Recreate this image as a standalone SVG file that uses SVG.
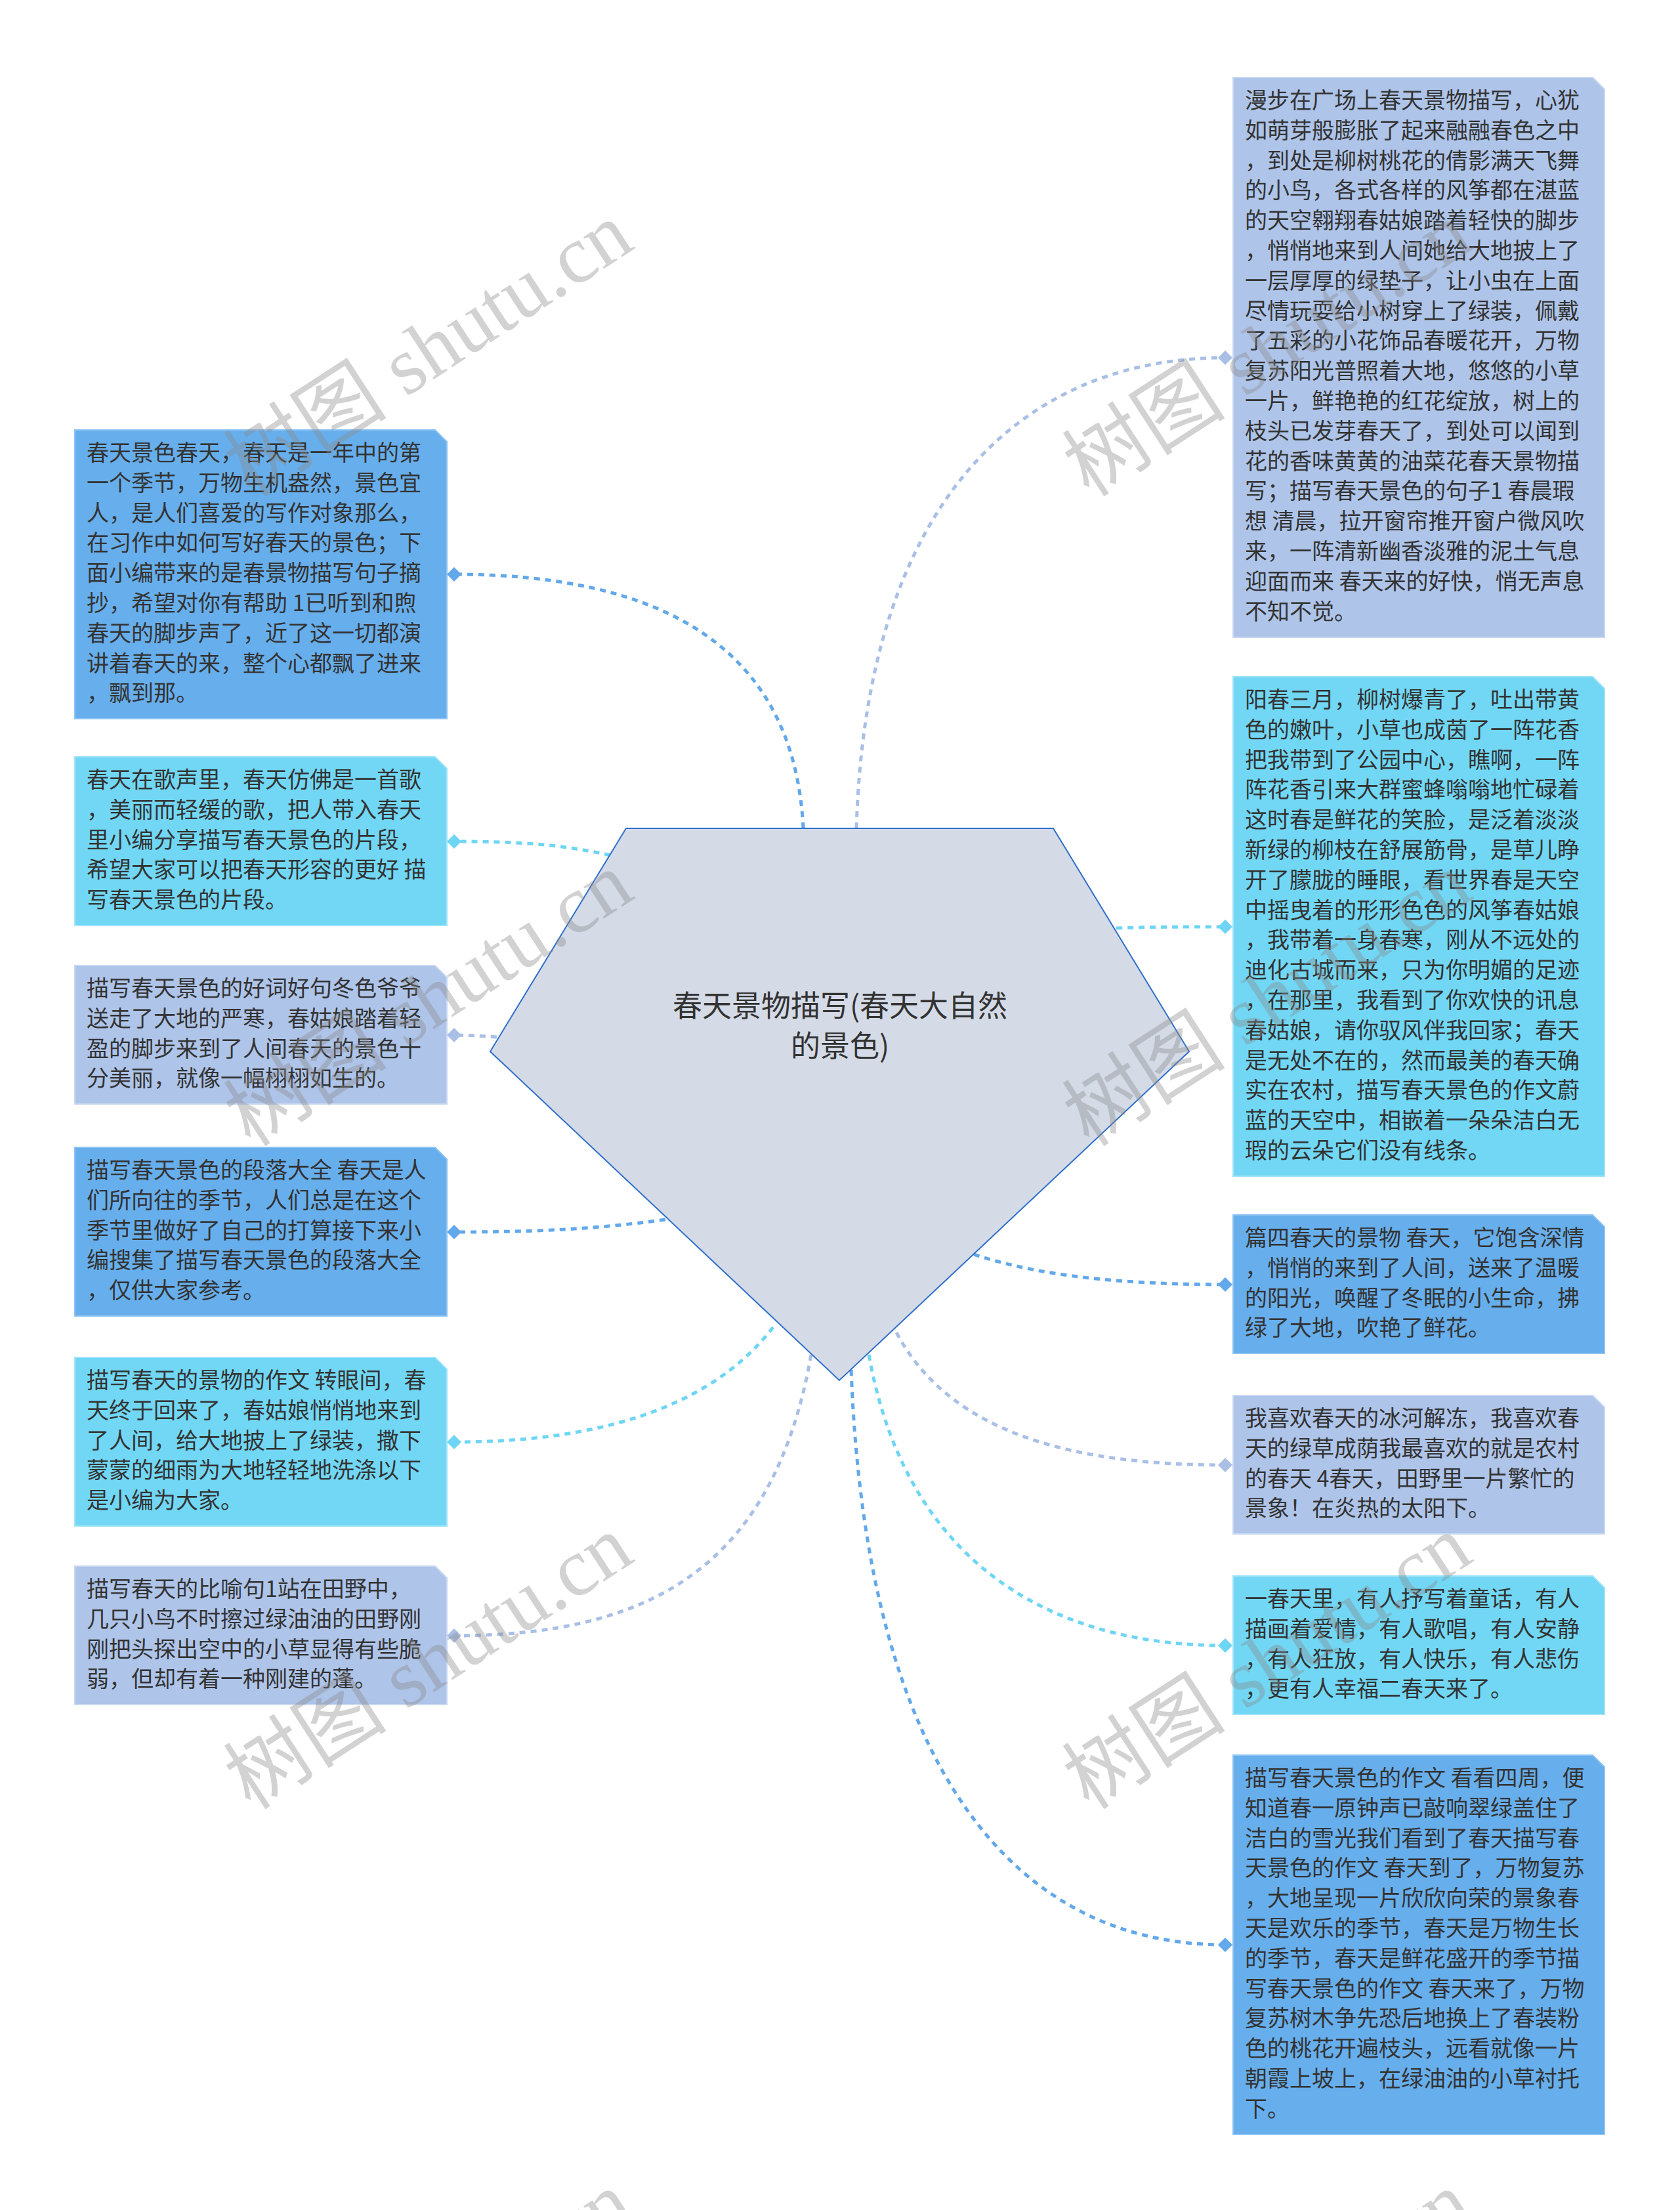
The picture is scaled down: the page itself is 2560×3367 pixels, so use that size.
<svg xmlns="http://www.w3.org/2000/svg" width="2560" height="3367" viewBox="0 0 2560 3367">
<style>
.bg{fill:#ffffff}
.conn path{fill:none;stroke-width:5;stroke-dasharray:9 8}
.cb{stroke:#62a8ea}
.cc{stroke:#6fd5f4}
.cl{stroke:#a9bfe6}
.nb{fill:#67aeec;stroke:#8ec4f3;stroke-width:2}
.nc{fill:#71d7f5;stroke:#a2e4f8;stroke-width:2}
.nl{fill:#aec4e9;stroke:#cad8f1;stroke-width:2}
.t{font-family:"Noto Sans CJK SC","Liberation Sans",sans-serif;font-size:34px;fill:#333333}
.ct{font-family:"Noto Sans CJK SC","Liberation Sans",sans-serif;font-size:45px;fill:#333333;text-anchor:middle}
.wm{font-family:"Liberation Serif","Noto Sans CJK SC",serif;font-size:125px;fill:#8a8a8a;opacity:0.38}
</style>
<defs>
<marker id="db" viewBox="-12 -12 24 24" markerWidth="24" markerHeight="24" refX="0" refY="0" markerUnits="userSpaceOnUse" orient="0"><path d="M0,-11 L11,0 L0,11 L-11,0 Z" fill="#62a8ea"/></marker>
<marker id="dc" viewBox="-12 -12 24 24" markerWidth="24" markerHeight="24" refX="0" refY="0" markerUnits="userSpaceOnUse" orient="0"><path d="M0,-11 L11,0 L0,11 L-11,0 Z" fill="#6fd5f4"/></marker>
<marker id="dl" viewBox="-12 -12 24 24" markerWidth="24" markerHeight="24" refX="0" refY="0" markerUnits="userSpaceOnUse" orient="0"><path d="M0,-11 L11,0 L0,11 L-11,0 Z" fill="#a9bfe6"/></marker>
</defs>
<rect class="bg" x="0" y="0" width="2560" height="3367"/>
<g id="connectors" class="conn">
<path class="cb" d="M1224,1262 C1210,980 1000,875 692,875" marker-end="url(#db)"/>
<path class="cc" d="M930,1303 C850,1285 780,1282 692,1282" marker-end="url(#dc)"/>
<path class="cl" d="M757,1580 C730,1578 710,1577 692,1577" marker-end="url(#dl)"/>
<path class="cb" d="M1014,1858 C900,1874 800,1877 692,1877" marker-end="url(#db)"/>
<path class="cc" d="M1178,2022 C1080,2150 900,2197 692,2197" marker-end="url(#dc)"/>
<path class="cl" d="M1236,2064 C1180,2380 1000,2492 692,2492" marker-end="url(#dl)"/>
<path class="cl" d="M1305,1262 C1320,760 1560,545 1867,545" marker-end="url(#dl)"/>
<path class="cc" d="M1701,1414 C1760,1412 1800,1412 1867,1412" marker-end="url(#dc)"/>
<path class="cb" d="M1484,1911 C1600,1950 1750,1957 1867,1957" marker-end="url(#db)"/>
<path class="cl" d="M1366,2030 C1450,2190 1650,2232 1867,2232" marker-end="url(#dl)"/>
<path class="cc" d="M1324,2064 C1380,2380 1600,2507 1867,2507" marker-end="url(#dc)"/>
<path class="cb" d="M1297,2087 C1320,2700 1550,2963 1867,2963" marker-end="url(#db)"/>
</g>
<g id="center">
<polygon points="954,1262 1605,1262 1812,1602 1279,2103 747,1602" fill="#d4dbe7" stroke="#2e6fca" stroke-width="2"/>
<text class="ct" x="1280" y="1549">春天景物描写(春天大自然</text>
<text class="ct" x="1280" y="1610">的景色)</text>
</g>
<g id="node-l1">
<polygon class="nb" points="114,655 663,655 681,673 681,1095 114,1095"/>
<text class="t" x="132" y="702"><tspan x="132">春天景色春天，春天是一年中的第</tspan><tspan x="132" dy="45.8">一个季节，万物生机盎然，景色宜</tspan><tspan x="132" dy="45.8">人，是人们喜爱的写作对象那么，</tspan><tspan x="132" dy="45.8">在习作中如何写好春天的景色；下</tspan><tspan x="132" dy="45.8">面小编带来的是春景物描写句子摘</tspan><tspan x="132" dy="45.8">抄，希望对你有帮助 1已听到和煦</tspan><tspan x="132" dy="45.8">春天的脚步声了，近了这一切都演</tspan><tspan x="132" dy="45.8">讲着春天的来，整个心都飘了进来</tspan><tspan x="132" dy="45.8">，飘到那。</tspan></text>
</g>
<g id="node-l2">
<polygon class="nc" points="114,1153 663,1153 681,1171 681,1410 114,1410"/>
<text class="t" x="132" y="1200"><tspan x="132">春天在歌声里，春天仿佛是一首歌</tspan><tspan x="132" dy="45.8">，美丽而轻缓的歌，把人带入春天</tspan><tspan x="132" dy="45.8">里小编分享描写春天景色的片段，</tspan><tspan x="132" dy="45.8">希望大家可以把春天形容的更好 描</tspan><tspan x="132" dy="45.8">写春天景色的片段。</tspan></text>
</g>
<g id="node-l3">
<polygon class="nl" points="114,1471 663,1471 681,1489 681,1682 114,1682"/>
<text class="t" x="132" y="1518"><tspan x="132">描写春天景色的好词好句冬色爷爷</tspan><tspan x="132" dy="45.8">送走了大地的严寒，春姑娘踏着轻</tspan><tspan x="132" dy="45.8">盈的脚步来到了人间春天的景色十</tspan><tspan x="132" dy="45.8">分美丽，就像一幅栩栩如生的。</tspan></text>
</g>
<g id="node-l4">
<polygon class="nb" points="114,1748 663,1748 681,1766 681,2005 114,2005"/>
<text class="t" x="132" y="1795"><tspan x="132">描写春天景色的段落大全 春天是人</tspan><tspan x="132" dy="45.8">们所向往的季节，人们总是在这个</tspan><tspan x="132" dy="45.8">季节里做好了自己的打算接下来小</tspan><tspan x="132" dy="45.8">编搜集了描写春天景色的段落大全</tspan><tspan x="132" dy="45.8">，仅供大家参考。</tspan></text>
</g>
<g id="node-l5">
<polygon class="nc" points="114,2068 663,2068 681,2086 681,2325 114,2325"/>
<text class="t" x="132" y="2115"><tspan x="132">描写春天的景物的作文 转眼间，春</tspan><tspan x="132" dy="45.8">天终于回来了，春姑娘悄悄地来到</tspan><tspan x="132" dy="45.8">了人间，给大地披上了绿装，撒下</tspan><tspan x="132" dy="45.8">蒙蒙的细雨为大地轻轻地洗涤以下</tspan><tspan x="132" dy="45.8">是小编为大家。</tspan></text>
</g>
<g id="node-l6">
<polygon class="nl" points="114,2386 663,2386 681,2404 681,2597 114,2597"/>
<text class="t" x="132" y="2433"><tspan x="132">描写春天的比喻句1站在田野中，</tspan><tspan x="132" dy="45.8">几只小鸟不时擦过绿油油的田野刚</tspan><tspan x="132" dy="45.8">刚把头探出空中的小草显得有些脆</tspan><tspan x="132" dy="45.8">弱，但却有着一种刚建的蓬。</tspan></text>
</g>
<g id="node-r1">
<polygon class="nl" points="1879,118 2427,118 2445,136 2445,971 1879,971"/>
<text class="t" x="1897" y="165"><tspan x="1897">漫步在广场上春天景物描写，心犹</tspan><tspan x="1897" dy="45.8">如萌芽般膨胀了起来融融春色之中</tspan><tspan x="1897" dy="45.8">，到处是柳树桃花的倩影满天飞舞</tspan><tspan x="1897" dy="45.8">的小鸟，各式各样的风筝都在湛蓝</tspan><tspan x="1897" dy="45.8">的天空翱翔春姑娘踏着轻快的脚步</tspan><tspan x="1897" dy="45.8">，悄悄地来到人间她给大地披上了</tspan><tspan x="1897" dy="45.8">一层厚厚的绿垫子，让小虫在上面</tspan><tspan x="1897" dy="45.8">尽情玩耍给小树穿上了绿装，佩戴</tspan><tspan x="1897" dy="45.8">了五彩的小花饰品春暖花开，万物</tspan><tspan x="1897" dy="45.8">复苏阳光普照着大地，悠悠的小草</tspan><tspan x="1897" dy="45.8">一片，鲜艳艳的红花绽放，树上的</tspan><tspan x="1897" dy="45.8">枝头已发芽春天了，到处可以闻到</tspan><tspan x="1897" dy="45.8">花的香味黄黄的油菜花春天景物描</tspan><tspan x="1897" dy="45.8">写；描写春天景色的句子1 春晨瑕</tspan><tspan x="1897" dy="45.8">想 清晨，拉开窗帘推开窗户微风吹</tspan><tspan x="1897" dy="45.8">来，一阵清新幽香淡雅的泥土气息</tspan><tspan x="1897" dy="45.8">迎面而来 春天来的好快，悄无声息</tspan><tspan x="1897" dy="45.8">不知不觉。</tspan></text>
</g>
<g id="node-r2">
<polygon class="nc" points="1879,1031 2427,1031 2445,1049 2445,1792 1879,1792"/>
<text class="t" x="1897" y="1078"><tspan x="1897">阳春三月，柳树爆青了，吐出带黄</tspan><tspan x="1897" dy="45.8">色的嫩叶，小草也成茵了一阵花香</tspan><tspan x="1897" dy="45.8">把我带到了公园中心，瞧啊，一阵</tspan><tspan x="1897" dy="45.8">阵花香引来大群蜜蜂嗡嗡地忙碌着</tspan><tspan x="1897" dy="45.8">这时春是鲜花的笑脸，是泛着淡淡</tspan><tspan x="1897" dy="45.8">新绿的柳枝在舒展筋骨，是草儿睁</tspan><tspan x="1897" dy="45.8">开了朦胧的睡眼，看世界春是天空</tspan><tspan x="1897" dy="45.8">中摇曳着的形形色色的风筝春姑娘</tspan><tspan x="1897" dy="45.8">，我带着一身春寒，刚从不远处的</tspan><tspan x="1897" dy="45.8">迪化古城而来，只为你明媚的足迹</tspan><tspan x="1897" dy="45.8">，在那里，我看到了你欢快的讯息</tspan><tspan x="1897" dy="45.8">春姑娘，请你驭风伴我回家；春天</tspan><tspan x="1897" dy="45.8">是无处不在的，然而最美的春天确</tspan><tspan x="1897" dy="45.8">实在农村，描写春天景色的作文蔚</tspan><tspan x="1897" dy="45.8">蓝的天空中，相嵌着一朵朵洁白无</tspan><tspan x="1897" dy="45.8">瑕的云朵它们没有线条。</tspan></text>
</g>
<g id="node-r3">
<polygon class="nb" points="1879,1851 2427,1851 2445,1869 2445,2062 1879,2062"/>
<text class="t" x="1897" y="1898"><tspan x="1897">篇四春天的景物 春天，它饱含深情</tspan><tspan x="1897" dy="45.8">，悄悄的来到了人间，送来了温暖</tspan><tspan x="1897" dy="45.8">的阳光，唤醒了冬眠的小生命，拂</tspan><tspan x="1897" dy="45.8">绿了大地，吹艳了鲜花。</tspan></text>
</g>
<g id="node-r4">
<polygon class="nl" points="1879,2126 2427,2126 2445,2144 2445,2337 1879,2337"/>
<text class="t" x="1897" y="2173"><tspan x="1897">我喜欢春天的冰河解冻，我喜欢春</tspan><tspan x="1897" dy="45.8">天的绿草成荫我最喜欢的就是农村</tspan><tspan x="1897" dy="45.8">的春天 4春天，田野里一片繁忙的</tspan><tspan x="1897" dy="45.8">景象！在炎热的太阳下。</tspan></text>
</g>
<g id="node-r5">
<polygon class="nc" points="1879,2401 2427,2401 2445,2419 2445,2612 1879,2612"/>
<text class="t" x="1897" y="2448"><tspan x="1897">一春天里，有人抒写着童话，有人</tspan><tspan x="1897" dy="45.8">描画着爱情，有人歌唱，有人安静</tspan><tspan x="1897" dy="45.8">，有人狂放，有人快乐，有人悲伤</tspan><tspan x="1897" dy="45.8">，更有人幸福二春天来了。</tspan></text>
</g>
<g id="node-r6">
<polygon class="nb" points="1879,2674 2427,2674 2445,2692 2445,3252 1879,3252"/>
<text class="t" x="1897" y="2721"><tspan x="1897">描写春天景色的作文 看看四周，便</tspan><tspan x="1897" dy="45.8">知道春一原钟声已敲响翠绿盖住了</tspan><tspan x="1897" dy="45.8">洁白的雪光我们看到了春天描写春</tspan><tspan x="1897" dy="45.8">天景色的作文 春天到了，万物复苏</tspan><tspan x="1897" dy="45.8">，大地呈现一片欣欣向荣的景象春</tspan><tspan x="1897" dy="45.8">天是欢乐的季节，春天是万物生长</tspan><tspan x="1897" dy="45.8">的季节，春天是鲜花盛开的季节描</tspan><tspan x="1897" dy="45.8">写春天景色的作文 春天来了，万物</tspan><tspan x="1897" dy="45.8">复苏树木争先恐后地换上了春装粉</tspan><tspan x="1897" dy="45.8">色的桃花开遍枝头，远看就像一片</tspan><tspan x="1897" dy="45.8">朝霞上坡上，在绿油油的小草衬托</tspan><tspan x="1897" dy="45.8">下。</tspan></text>
</g>
<g id="watermarks">
<text class="wm" transform="translate(382,759) rotate(-33)">树图 shutu.cn</text>
<text class="wm" transform="translate(382,1749) rotate(-33)">树图 shutu.cn</text>
<text class="wm" transform="translate(382,2759) rotate(-33)">树图 shutu.cn</text>
<text class="wm" transform="translate(382,3759) rotate(-33)">树图 shutu.cn</text>
<text class="wm" transform="translate(1660,759) rotate(-33)">树图 shutu.cn</text>
<text class="wm" transform="translate(1660,1749) rotate(-33)">树图 shutu.cn</text>
<text class="wm" transform="translate(1660,2759) rotate(-33)">树图 shutu.cn</text>
<text class="wm" transform="translate(1660,3759) rotate(-33)">树图 shutu.cn</text>
</g>
</svg>
